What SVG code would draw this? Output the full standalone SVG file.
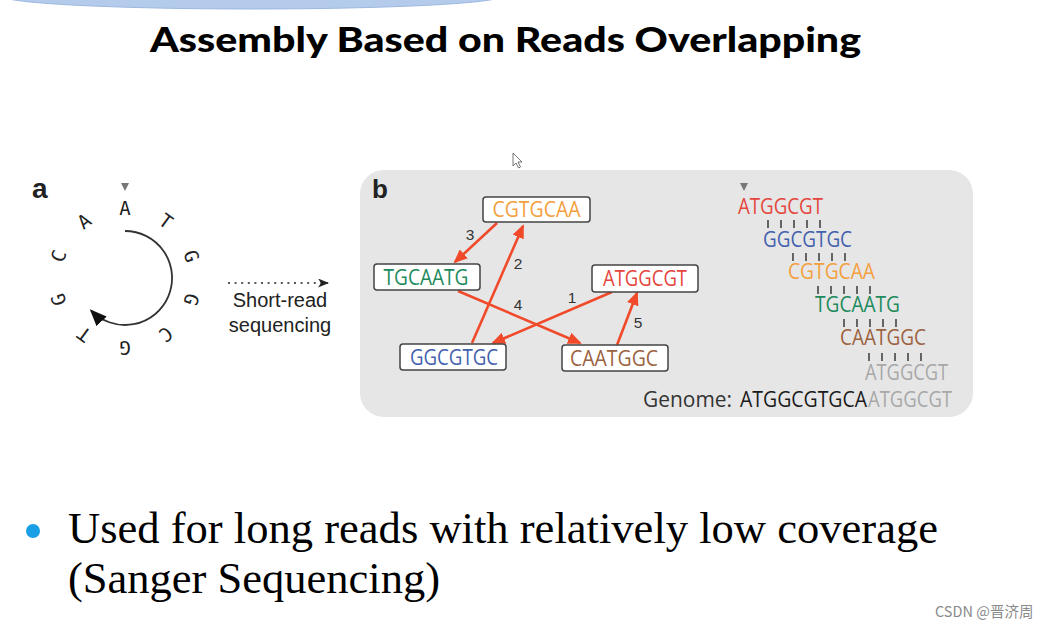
<svg xmlns="http://www.w3.org/2000/svg" width="1048" height="630" viewBox="0 0 1048 630">
<defs>
<style>
.title{font-family:Lato,"Open Sans",sans-serif;font-weight:900;font-size:35px;fill:#000}
.lab{font-family:"Liberation Sans",Arial,sans-serif;font-weight:700;fill:#222}
.ring{font-family:"DejaVu Sans Mono",monospace;font-size:19px;fill:#222;text-anchor:middle}
.sr{font-family:"Liberation Sans",Arial,sans-serif;font-size:20px;fill:#222;text-anchor:middle}
.seq{font-family:"Open Sans","Noto Sans",sans-serif;font-size:21px}
.nodebox{fill:#fff;stroke:#444;stroke-width:1.5}
.num{font-family:"Liberation Sans",Arial,sans-serif;font-size:15.5px;fill:#333;text-anchor:middle}
.edge{stroke:#f04a2a;stroke-width:2.6;fill:none;marker-end:url(#ah)}
.tick{stroke:#444;stroke-width:1.6}
.body{font-family:"Liberation Serif","Times New Roman",serif;font-size:45px;fill:#000}
.red{fill:#e4453c}.blue{fill:#4360ad}.orange{fill:#f3a040}.green{fill:#218a5c}.brown{fill:#9b6240}.gray{fill:#a8a8a8}
</style>
<marker id="ah" markerUnits="userSpaceOnUse" markerWidth="14" markerHeight="12" refX="12" refY="6" orient="auto" viewBox="0 0 14 12">
<path d="M0,0 L14,6 L0,12 z" fill="#f04a2a"/>
</marker>
<marker id="ringhead" markerUnits="userSpaceOnUse" markerWidth="17" markerHeight="14" refX="15" refY="7" orient="auto" viewBox="0 0 17 14">
<path d="M0,0 L17,7 L0,14 z" fill="#111"/>
</marker>
<marker id="dothead" markerUnits="userSpaceOnUse" markerWidth="11" markerHeight="9" refX="10" refY="4.5" orient="auto" viewBox="0 0 11 9">
<path d="M0,0 L11,4.5 L0,9 L3,4.5 z" fill="#222"/>
</marker>
</defs>

<rect width="1048" height="630" fill="#fff"/>
<ellipse cx="252" cy="-4" rx="250" ry="13" fill="#b4cbeb" stroke="#9cb8e0" stroke-width="1"/>

<text class="title" x="150" y="52" textLength="711" lengthAdjust="spacingAndGlyphs">Assembly Based on Reads Overlapping</text>

<!-- cursor -->
<path d="M513,153 L513,166 L516,163 L518.5,168 L520.5,167 L518,162 L522,162 z" fill="#fff" stroke="#555" stroke-width="0.8"/>

<!-- panel a -->
<g id="panel-a">
<text class="lab" x="32" y="198" font-size="28">a</text>
<path d="M121,183 L129,183 L125,191 z" fill="#777"/>
<path d="M125,231 A47,47 0 1,1 91.2,310.6" fill="none" stroke="#333" stroke-width="1.8" marker-end="url(#ringhead)"/>
<text class="ring" x="125" y="215" transform="rotate(0 125 208)">A</text>
<text class="ring" x="166" y="228" transform="rotate(36 166 221)">T</text>
<text class="ring" x="191.6" y="263" transform="rotate(72 191.6 256)">G</text>
<text class="ring" x="191.6" y="306.6" transform="rotate(108 191.6 299.6)">G</text>
<text class="ring" x="166" y="341.6" transform="rotate(144 166 334.6)">C</text>
<text class="ring" x="125" y="355" transform="rotate(180 125 348)">G</text>
<text class="ring" x="84" y="341.6" transform="rotate(216 84 334.6)">T</text>
<text class="ring" x="58.4" y="306.6" transform="rotate(252 58.4 299.6)">G</text>
<text class="ring" x="58.4" y="263" transform="rotate(288 58.4 256)">C</text>
<text class="ring" x="84" y="228" transform="rotate(324 84 221)">A</text>
</g>

<g id="short-read">
<line x1="228" y1="283" x2="328" y2="283" stroke="#222" stroke-width="1.6" stroke-dasharray="2 4.6" marker-end="url(#dothead)"/>
<text class="sr" x="280" y="307">Short-read</text>
<text class="sr" x="280" y="332">sequencing</text>
</g>

<!-- panel b -->
<g id="panel-b">
<rect x="360" y="170" width="613" height="247" rx="24" fill="#e6e6e6"/>
<text class="lab" x="372" y="198" font-size="26">b</text>
</g>

<g id="connectors">
<line class="edge" x1="497" y1="223" x2="455" y2="262"/>
<line class="edge" x1="472" y1="343" x2="523" y2="226"/>
<line class="edge" x1="458" y1="291" x2="580" y2="343"/>
<line class="edge" x1="612" y1="292" x2="493" y2="343"/>
<line class="edge" x1="617" y1="345" x2="637" y2="293"/>
<text class="num" x="470" y="240">3</text>
<text class="num" x="518" y="269">2</text>
<text class="num" x="518" y="310">4</text>
<text class="num" x="572" y="303">1</text>
<text class="num" x="638" y="328">5</text>
</g>

<g id="node-CGTGCAA">
<rect class="nodebox" x="483" y="197" width="107" height="25" rx="3"/>
<text class="seq orange" x="536.5" y="217" text-anchor="middle" textLength="88" lengthAdjust="spacingAndGlyphs">CGTGCAA</text>
</g>
<g id="node-TGCAATG">
<rect class="nodebox" x="374" y="264" width="106" height="26" rx="3"/>
<text class="seq green" x="426" y="284.5" text-anchor="middle" textLength="85" lengthAdjust="spacingAndGlyphs">TGCAATG</text>
</g>
<g id="node-ATGGCGT">
<rect class="nodebox" x="592" y="265" width="106" height="27" rx="3"/>
<text class="seq red" x="645" y="286" text-anchor="middle" textLength="84" lengthAdjust="spacingAndGlyphs">ATGGCGT</text>
</g>
<g id="node-GGCGTGC">
<rect class="nodebox" x="400" y="344" width="106" height="26" rx="3"/>
<text class="seq blue" x="454" y="364.5" text-anchor="middle" textLength="88" lengthAdjust="spacingAndGlyphs">GGCGTGC</text>
</g>
<g id="node-CAATGGC">
<rect class="nodebox" x="562" y="345" width="106" height="26" rx="3"/>
<text class="seq brown" x="614" y="365.5" text-anchor="middle" textLength="88" lengthAdjust="spacingAndGlyphs">CAATGGC</text>
</g>

<g id="alignment">
<path d="M740,183 L748,183 L744,191 z" fill="#777"/>
<text class="seq red" x="738" y="214" textLength="85" lengthAdjust="spacingAndGlyphs">ATGGCGT</text>
<text class="seq blue" x="763" y="247" textLength="89" lengthAdjust="spacingAndGlyphs">GGCGTGC</text>
<text class="seq orange" x="788" y="279" textLength="87" lengthAdjust="spacingAndGlyphs">CGTGCAA</text>
<text class="seq green" x="815" y="312" textLength="85" lengthAdjust="spacingAndGlyphs">TGCAATG</text>
<text class="seq brown" x="840" y="345" textLength="86" lengthAdjust="spacingAndGlyphs">CAATGGC</text>
<text class="seq gray" x="865" y="380" textLength="83" lengthAdjust="spacingAndGlyphs">ATGGCGT</text>
<g>
<line class="tick" x1="768" y1="220" x2="768" y2="228"/><line class="tick" x1="781" y1="220" x2="781" y2="228"/><line class="tick" x1="794" y1="220" x2="794" y2="228"/><line class="tick" x1="807" y1="220" x2="807" y2="228"/><line class="tick" x1="820" y1="220" x2="820" y2="228"/>
<line class="tick" x1="793" y1="253" x2="793" y2="261"/><line class="tick" x1="806" y1="253" x2="806" y2="261"/><line class="tick" x1="819" y1="253" x2="819" y2="261"/><line class="tick" x1="832" y1="253" x2="832" y2="261"/><line class="tick" x1="845" y1="253" x2="845" y2="261"/>
<line class="tick" x1="818" y1="286" x2="818" y2="294"/><line class="tick" x1="831" y1="286" x2="831" y2="294"/><line class="tick" x1="844" y1="286" x2="844" y2="294"/><line class="tick" x1="857" y1="286" x2="857" y2="294"/><line class="tick" x1="870" y1="286" x2="870" y2="294"/>
<line class="tick" x1="844" y1="319" x2="844" y2="327"/><line class="tick" x1="857" y1="319" x2="857" y2="327"/><line class="tick" x1="870" y1="319" x2="870" y2="327"/><line class="tick" x1="883" y1="319" x2="883" y2="327"/><line class="tick" x1="896" y1="319" x2="896" y2="327"/>
<line class="tick" x1="869" y1="353" x2="869" y2="361"/><line class="tick" x1="882" y1="353" x2="882" y2="361"/><line class="tick" x1="895" y1="353" x2="895" y2="361"/><line class="tick" x1="908" y1="353" x2="908" y2="361"/><line class="tick" x1="921" y1="353" x2="921" y2="361"/>
</g>
<text class="seq" x="643" y="407" fill="#333" textLength="89" lengthAdjust="spacingAndGlyphs">Genome:</text>
<text class="seq" x="740" y="407" fill="#1a1a1a" textLength="127" lengthAdjust="spacingAndGlyphs">ATGGCGTGCA</text>
<text class="seq gray" x="868" y="407" textLength="84" lengthAdjust="spacingAndGlyphs">ATGGCGT</text>
</g>

<g id="bullet">
<circle cx="33" cy="531" r="7" fill="#1a9fe6"/>
<text class="body" x="68" y="543" textLength="870" lengthAdjust="spacingAndGlyphs">Used for long reads with relatively low coverage</text>
<text class="body" x="68" y="593" textLength="372" lengthAdjust="spacingAndGlyphs">(Sanger Sequencing)</text>
</g>

<text x="935" y="617" font-family="'Noto Sans CJK SC','Noto Sans',sans-serif" font-size="14.5" fill="#8a8a8a">CSDN @晋济周</text>
</svg>
